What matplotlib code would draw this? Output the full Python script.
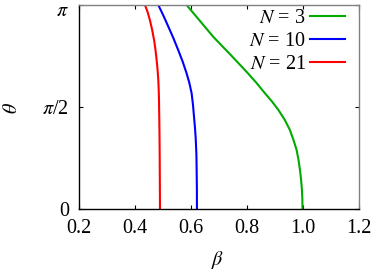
import numpy as np
import matplotlib
matplotlib.use('Agg')
import matplotlib.pyplot as plt
import matplotlib.transforms as mtransforms

# curves: theta (rad) -> beta
theta_n3 = [0.0, 0.15, 0.293, 0.45, 0.60, 0.75, 0.909, 1.06, 1.217, 1.37,
            1.525, 1.65, 1.782, 1.95, 2.114, 2.38, 2.653, 2.90, np.pi]
beta_n3 = [1.000, 0.9995, 0.998, 0.995, 0.991, 0.986, 0.979, 0.968, 0.955, 0.937,
           0.914, 0.892, 0.866, 0.834, 0.800, 0.742, 0.681, 0.633, 0.586]

theta_n10 = [0.0, 0.3, 0.575, 0.85, 1.093, 1.25, 1.422, 1.60, 1.69, 1.782,
             1.94, 2.090, 2.27, 2.449, 2.63, 2.807, 2.98, np.pi]
beta_n10 = [0.623, 0.6228, 0.622, 0.621, 0.6185, 0.616, 0.6125, 0.609, 0.6065, 0.604,
            0.596, 0.586, 0.572, 0.556, 0.539, 0.521, 0.503, 0.485]

theta_n21 = [0.0, 0.8, 1.15, 1.371, 1.679, 1.83, 1.987, 2.14, 2.295, 2.45,
             2.60, 2.76, 2.91, 3.03, np.pi]
beta_n21 = [0.491, 0.490, 0.4893, 0.4886, 0.4875, 0.4865, 0.485, 0.4825, 0.479, 0.475,
            0.470, 0.463, 0.455, 0.447, 0.4375]

labels = ['$N$ = 3', '$N$ = 10', '$N$ = 21']
colors = ['#00aa00', '#0000ff', '#ff0000']

xticks = [0.2, 0.4, 0.6, 0.8, 1.0, 1.2]
xticklabels = ['0.2', '0.4', '0.6', '0.8', '1.0', '1.2']
yticks = [0, np.pi / 2, np.pi]
yticklabels = ['0', r'$\pi$/2', r'$\pi$']

plt.rcParams['font.family'] = 'serif'
plt.rcParams['font.serif'] = ['Liberation Serif', 'DejaVu Serif']
plt.rcParams['mathtext.fontset'] = 'stix'
plt.rcParams['font.size'] = 14.5

fig = plt.figure(figsize=(3.74, 2.74), dpi=100)
ax = fig.add_axes([78.5 / 374, 65 / 274, 280 / 374, 204 / 274])

lines = []
for th, be, c in zip([theta_n3, theta_n10, theta_n21],
                     [beta_n3, beta_n10, beta_n21], colors):
    l, = ax.plot(be, th, color=c, lw=1.5)
    lines.append(l)

ax.set_xlim(0.2, 1.2)
ax.set_ylim(0, np.pi)
ax.set_xticks(xticks)
ax.set_xticklabels(xticklabels)
ax.set_yticks(yticks)
ax.set_yticklabels(yticklabels)
ax.tick_params(direction='in', length=3, width=0.8, top=True, right=True, pad=7)
for t in ax.xaxis.get_major_ticks() + ax.yaxis.get_major_ticks():
    t.tick2line.set_color('#808080')

# nudge the top label (pi) down a little so it stays inside the figure
top_lab = ax.get_yticklabels()[-1]
top_lab.set_transform(top_lab.get_transform() +
                      mtransforms.ScaledTranslation(0, -3 / 72, fig.dpi_scale_trans))

ax.spines['top'].set_color('#808080')
ax.spines['right'].set_color('#808080')
for s in ax.spines.values():
    s.set_linewidth(1.0)

ax.set_xlabel(r'$\beta$')
ax.set_ylabel(r'$\theta$')
ax.xaxis.label.set_va('center')
ax.xaxis.set_label_coords(0.495, -0.25)
ax.yaxis.label.set_va('center')
ax.yaxis.set_label_coords(-0.235, 0.495)

ax.legend(lines, labels, loc='upper right', bbox_to_anchor=(0.952, 0.98),
          frameon=False, markerfirst=False, handlelength=1.75,
          handletextpad=0.2, labelspacing=0.2, borderpad=0,
          borderaxespad=0)

fig.savefig('out.png', dpi=100)
